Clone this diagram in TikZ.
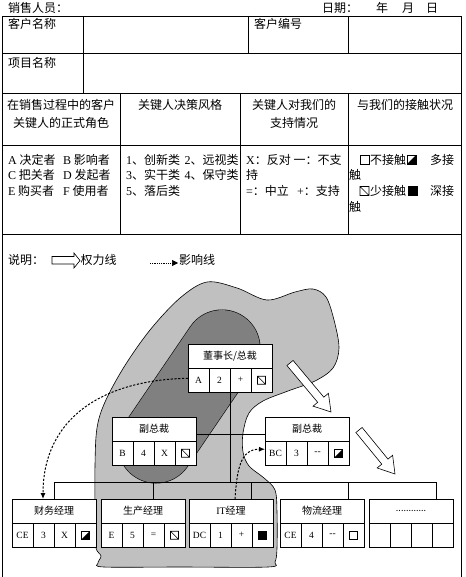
\documentclass[tikz,border=0pt]{standalone}
\usepackage{fontspec}
\setmainfont{Liberation Serif}
\newfontfamily\cjk{Noto Sans CJK SC}
\usetikzlibrary{calc,arrows.meta}
\definecolor{lgray}{RGB}{192,192,192}
\definecolor{dgray}{RGB}{128,128,128}
\newcommand\la[1]{{\rmfamily #1}}
\def\ss{4}
\newcommand\symE[1]{\draw[sym] ($(#1)+(-\ss,-\ss)$) rectangle ($(#1)+(\ss,\ss)$);}
\newcommand\symD[1]{\draw[sym] ($(#1)+(-\ss,-\ss)$) rectangle ($(#1)+(\ss,\ss)$) ($(#1)+(-\ss,-\ss)$) -- ($(#1)+(\ss,\ss)$);}
\newcommand\symH[1]{\fill ($(#1)+(-\ss,\ss)$) -- ($(#1)+(\ss,-\ss)$) -- ($(#1)+(\ss,\ss)$) -- cycle; \draw[sym] ($(#1)+(-\ss,-\ss)$) rectangle ($(#1)+(\ss,\ss)$);}
\newcommand\symF[1]{\filldraw[sym] ($(#1)+(-\ss,-\ss)$) rectangle ($(#1)+(\ss,\ss)$);}
\newcommand\symN[1]{}
\newcommand\obox[9]{%
 \node[boxhead, anchor=north west] (#1) at (#2,#3) {#4};
 \node[boxcell, anchor=north west] (#1-1) at (#1.south west) {#5};
 \node[boxcell, anchor=west] (#1-2) at (#1-1.east) {#6};
 \node[boxcell, anchor=west] (#1-3) at (#1-2.east) {#7};
 \node[boxcell, anchor=west] (#1-4) at (#1-3.east) {#8};
 #9{#1-4}%
}
\newcommand\harrow[6]{%
 \coordinate (#1a) at #2; \coordinate (#1b) at #3;
 \coordinate (#1h) at ($(#1b)!#6!(#1a)$);
 \draw[power] ($(#1a)!#4!90:(#1b)$) -- ($(#1h)!#4!90:(#1b)$) -- ($(#1h)!#5!90:(#1b)$) -- (#1b)
   -- ($(#1h)!#5!-90:(#1b)$) -- ($(#1h)!#4!-90:(#1b)$) -- ($(#1a)!#4!-90:(#1b)$) -- cycle;
}
\tikzset{
 grid/.style={line width=0.8pt},
 boxhead/.style={draw, fill=white, line width=0.7pt, minimum width=84pt, minimum height=24pt, inner sep=0pt, outer sep=0pt, font=\cjk\fontsize{10}{12}\selectfont},
 boxcell/.style={draw, fill=white, line width=0.7pt, minimum width=21pt, minimum height=24.5pt, inner sep=0pt, outer sep=0pt, font=\fontsize{9.5}{11}\selectfont},
 tbl/.style={inner sep=0pt, anchor=west, font=\cjk\fontsize{12}{14}\selectfont},
 tblc/.style={inner sep=0pt, font=\cjk\fontsize{12}{18}\selectfont, align=center},
 orgline/.style={line width=0.6pt},
 infl/.style={line width=1pt, dash pattern=on 2.2pt off 1.6pt, -{Latex[length=6pt,width=5pt]}},
 power/.style={draw, line width=0.6pt, fill=white, line join=miter},
 sym/.style={line width=0.6pt}
}
\begin{document}
\begin{tikzpicture}[x=1pt,y=-1pt]
\useasboundingbox (0,0) rectangle (465,577);
\fill[white] (0,0) rectangle (465,577);
% header
\node[tbl] (salesp) at (8,8) {销售人员：};
\node[tbl] (date) at (322,8) {日期：};
\node[tbl] (yr) at (376,8) {年};
\node[tbl] (mo) at (402,8) {月};
\node[tbl] (dy) at (426,8) {日};
% grid
\draw[grid] (2.5,577) -- (2.5,16) -- (461,16) -- (461,577);
\draw[grid] (2.5,53) -- (461,53) (2.5,93) -- (461,93) (2.5,145) -- (461,145) (2.5,234) -- (461,234);
\draw[grid] (83,16) -- (83,93) (248,16) -- (248,53) (348,16) -- (348,53);
\draw[grid] (120,93) -- (120,234) (240,93) -- (240,234) (348,93) -- (348,234);
% table text
\node[tbl] (t11) at (8,24) {客户名称};
\node[tbl] (t13) at (254,24) {客户编号};
\node[tbl] (t21) at (8,63) {项目名称};
\node[tblc] (h1) at (61,114) {在销售过程中的客户\\关键人的正式角色};
\node[tblc] (h2) at (180,105) {关键人决策风格};
\node[tblc] (h3) at (294,114) {关键人对我们的\\支持情况};
\node[tblc] (h4) at (405,105) {与我们的接触状况};
\node[tbl] (a1) at (8,159.5) {\la{A} 决定者};
\node[tbl] (a2) at (63,159.5) {\la{B} 影响者};
\node[tbl] (a3) at (8,175) {\la{C} 把关者};
\node[tbl] (a4) at (63,175) {\la{D} 发起者};
\node[tbl] (a5) at (8,191) {\la{E} 购买者};
\node[tbl] (a6) at (63,191) {\la{F} 使用者};
\node[tbl] (b1) at (126,159.5) {\la{1}、创新类};
\node[tbl] (b2) at (184.5,159.5) {\la{2}、远视类};
\node[tbl] (b3) at (126,175) {\la{3}、实干类};
\node[tbl] (b4) at (184.5,175) {\la{4}、保守类};
\node[tbl] (b5) at (126,191) {\la{5}、落后类};
\node[tbl] (c1) at (246,159.5) {\la{X}：反对 一：不支};
\node[tbl] (c2) at (246,175) {持};
\node[tbl] (c3) at (246,191) {\la{=}：中立};
\node[tbl] (c4) at (297,191) {\la{+}：支持};
\def\ss{4.5}
\coordinate (s1) at (364.5,159.5); \symE{s1}
\node[tbl] (d1t) at (370,159.5) {不接触};
\coordinate (s2) at (411.5,159.5); \symH{s2}
\node[tbl] (d2t) at (430,159.5) {多接};
\node[tbl] (d3t) at (349,175) {触};
\coordinate (s3) at (364.5,191); \symD{s3}
\node[tbl] (d4t) at (370,191) {少接触};
\coordinate (s4) at (413,191); \symF{s4}
\node[tbl] (d5t) at (430,191) {深接};
\node[tbl] (d6t) at (349,207) {触};
% legend
\node[tbl] (expl) at (8,260) {说明：};
\draw[power] (52,256.5) -- (74,256.5) -- (74,253) -- (80,260.5) -- (74,268) -- (74,264) -- (52,264) -- cycle;
\node[tbl] (lg1) at (80.5,260) {权力线};
\coordinate (ls) at (150,263); \coordinate (le) at (178,263);
\draw[line width=0.6pt, dash pattern=on 0.8pt off 1pt, -{Triangle[length=6pt,width=6pt]}] (ls) -- (le);
\node[tbl] (lg2) at (179,260) {影响线};
% light gray area
\draw[fill=lgray, line width=0.6pt] plot[smooth cycle, tension=0.55] coordinates {
 (207,282) (237,288) (267,300) (295,292) (313,289) (326,297) (334,320) (339,348) (333,368) (315,381)
 (288,391) (263,401) (249,413) (243,433) (243,452) (249,466) (264,478) (275,490) (277,512) (277,548)
 (275,562) (268,567) (180,567) (104,567) (98,563) (101,556) (96,548) (95,525) (95,465) (97,428)
 (105,402) (124,367) (150,330) (180,298)};
% dark capsule
\coordinate (capA) at (222,348); \coordinate (capB) at (156,445);
\draw[line width=77pt, line cap=round, black] (capA) -- (capB);
\draw[line width=75.8pt, line cap=round, dgray] (capA) -- (capB);
% boxes
\def\ss{4}
\obox{ceo}{188}{344}{董事长/总裁}{A}{2}{+}{}{\symD}
\obox{vp1}{112}{417}{副总裁}{B}{4}{X}{}{\symD}
\obox{vp2}{265}{417}{副总裁}{BC}{3}{-{}-}{}{\symH}
\obox{cfo}{12}{499}{财务经理}{CE}{3}{X}{}{\symH}
\obox{prod}{101}{499}{生产经理}{E}{5}{=}{}{\symD}
\obox{it}{189}{499}{\la{IT}经理}{DC}{1}{+}{}{\symF}
\obox{log}{280}{499}{物流经理}{CE}{4}{-{}-}{}{\symE}
\obox{dots}{369}{499}{\fontsize{9}{10}\selectfont ............}{}{}{}{}{\symN}
% org lines
\coordinate (bus) at (0,482);
\coordinate (hl) at ([yshift=-5pt]vp1.east);
\draw[orgline] (hl) -- (hl -| vp2.west);
\draw[orgline] (ceo-2.south east) -- (ceo-2.south east |- bus);
\coordinate (dr1) at (cfo.north);
\coordinate (dr2) at ([xshift=52pt]prod.north west);
\coordinate (dr3) at ([xshift=62pt]it.north west);
\coordinate (dr4) at ([xshift=68pt]log.north west);
\coordinate (dr5) at ([xshift=67pt]dots.north west);
\draw[orgline] (dr1) -- (dr1 |- bus) -- (dr5 |- bus) -- (dr5);
\draw[orgline] (dr2) -- (dr2 |- bus) (dr3) -- (dr3 |- bus) (dr4) -- (dr4 |- bus);
% power arrows
\harrow{pa}{(290,363)}{(331,412)}{4pt}{10pt}{16pt}
\harrow{pb}{(359,430)}{(395,474)}{4pt}{10pt}{16pt}
% influence lines
\draw[infl] ([yshift=2pt]ceo-1.west) .. controls (100,380) and (43,420) .. ([xshift=31pt]cfo.north west);
\draw[infl] ([xshift=46pt]it.north west) .. controls (237,470) and (240,449) .. ([yshift=4pt]vp2-1.west);
\end{tikzpicture}
\end{document}
